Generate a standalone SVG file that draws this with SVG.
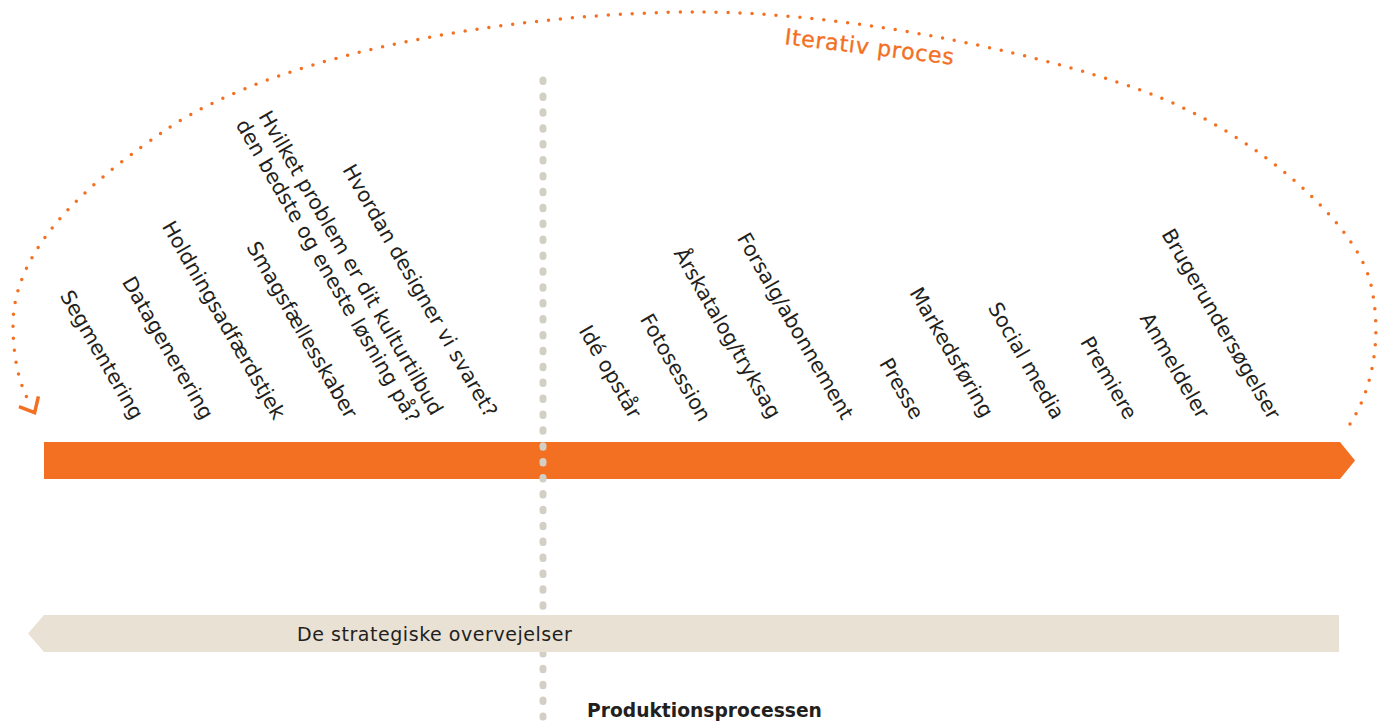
<svg xmlns="http://www.w3.org/2000/svg" width="1391" height="722" viewBox="0 0 1391 722">
<style>
.lbl{font-family:"DejaVu Sans",sans-serif;font-size:20.5px;fill:#231F20;text-anchor:end}
.lbls{font-family:"DejaVu Sans",sans-serif;font-size:20.5px;fill:#231F20}
.arc{fill:none;stroke:#F37022;stroke-width:3.5;stroke-linecap:round;stroke-dasharray:0 12}
.vline{fill:none;stroke:#D3CFC5;stroke-width:7;stroke-linecap:round;stroke-dasharray:1.5 14.4}
</style>
<defs>
<marker id="chev" markerUnits="userSpaceOnUse" orient="auto" refX="0" refY="0" markerWidth="30" markerHeight="30" overflow="visible">
<path d="M -0.6 -11 L 12 0 L -0.6 11" fill="none" stroke="#F37022" stroke-width="3.5" stroke-linejoin="miter"/>
</marker>
</defs>
<rect width="1391" height="722" fill="#FFFFFF"/>

<g id="orange-bar"><polygon points="44,442 1340,442 1355,460.5 1340,479 44,479" fill="#F37022"/></g>

<g id="connectors">
<path class="arc" d="M 1350 424 C 1372 390, 1382 340, 1372 290 C 1362 225, 1255 135, 1156 96 C 1060 58, 860 12, 697 12 C 540 12, 290 45, 164 131 C 105 172, 13 240, 13 325 C 13 360, 20 385, 29 402" marker-end="url(#chev)"/>
<path class="vline" d="M 543 80 L 543 717"/>
</g>

<g id="beige-bar">
<polygon points="44,615 1339,615 1339,652 44,652 28,633.5" fill="#E8E1D4"/>
<text x="297" y="641" font-family="DejaVu Sans, sans-serif" font-size="19" letter-spacing="0.55" fill="#231F20">De strategiske overvejelser</text>
</g>

<g id="iterativ"><text transform="translate(784,44) rotate(7)" font-family="DejaVu Sans, sans-serif" font-size="22" letter-spacing="0.8" fill="#F37022" stroke="#F37022" stroke-width="0.35">Iterativ proces</text></g>

<g id="segmentering"><text class="lbl" transform="translate(132,421) rotate(60)">Segmentering</text></g>
<g id="datagenerering"><text class="lbl" transform="translate(202,421) rotate(60)">Datagenerering</text></g>
<g id="holdning"><text class="lbl" transform="translate(274,421) rotate(60)">Holdningsadfærdstjek</text></g>
<g id="smag"><text class="lbl" transform="translate(346,420) rotate(60)">Smagsfællesskaber</text></g>
<g id="hvilket"><text class="lbls" transform="translate(258,116) rotate(60)"><tspan x="0" y="0">Hvilket problem er dit kulturtilbud</tspan><tspan x="-4" y="24">den bedste og eneste løsning på?</tspan></text></g>
<g id="hvordan"><text class="lbl" transform="translate(486,419) rotate(60)">Hvordan designer vi svaret?</text></g>

<g id="ide"><text class="lbl" transform="translate(630,420) rotate(60)">Idé opstår</text></g>
<g id="foto"><text class="lbl" transform="translate(699.5,423) rotate(60)">Fotosession</text></g>
<g id="aarskatalog"><text class="lbl" transform="translate(769.5,420) rotate(60)">Årskatalog/tryksag</text></g>
<g id="forsalg"><text class="lbl" transform="translate(842,421) rotate(60)">Forsalg/abonnement</text></g>
<g id="presse"><text class="lbl" transform="translate(912,421) rotate(60)">Presse</text></g>
<g id="markedsforing"><text class="lbl" transform="translate(982,419) rotate(60)">Markedsføring</text></g>
<g id="social"><text class="lbl" transform="translate(1053,421) rotate(60)">Social media</text></g>
<g id="premiere"><text class="lbl" transform="translate(1125.5,421) rotate(60)">Premiere</text></g>
<g id="anmeldeler"><text class="lbl" transform="translate(1198,420) rotate(60)">Anmeldeler</text></g>
<g id="brugerundersogelser"><text class="lbl" transform="translate(1269,421) rotate(60)">Brugerundersøgelser</text></g>

<g id="produktion"><text x="587" y="717" font-family="DejaVu Sans, sans-serif" font-size="18.7" font-weight="bold" fill="#231F20">Produktionsprocessen</text></g>
</svg>
